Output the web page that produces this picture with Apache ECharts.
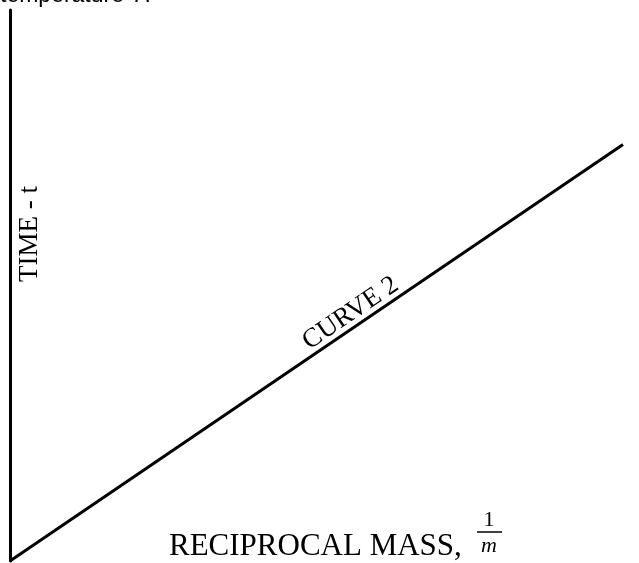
<!DOCTYPE html>
<html>
<head>
<meta charset="utf-8">
<style>
html, body { margin: 0; padding: 0; background: #fff; }
#main { width: 639px; height: 563px; }
</style>
<script src="https://cdn.jsdelivr.net/npm/echarts@6/dist/echarts.min.js"></script>
</head>
<body>
<div id="main"></div>
<script>
// 曲线2 数据 (1/m, t)
var massValues = [0, 1];
var timeValues = [0, 0.756];
var curveName = 'CURVE 2';
var xTitle = 'RECIPROCAL MASS,';
var yTitle = 'TIME - t';

var chart = echarts.init(document.getElementById('main'));
var serif = '"Liberation Serif", "Times New Roman", serif';

chart.setOption({
	animation : false,
	grid : {
		left : 10,
		right : 16,
		top : 10,
		bottom : 2
	},
	xAxis : {
		type : 'value',
		min : 0,
		max : 1,
		axisLine : { show : false },
		axisTick : { show : false },
		axisLabel : { show : false },
		splitLine : { show : false }
	},
	yAxis : {
		type : 'value',
		min : 0,
		max : 1,
		axisLine : {
			show : true,
			lineStyle : { color : '#000', width : 3 }
		},
		axisTick : { show : false },
		axisLabel : { show : false },
		splitLine : { show : false }
	},
	series : [ {
		name : curveName,
		type : 'line',
		symbol : 'none',
		lineStyle : { color : '#000', width : 3 },
		data : massValues.map(function(x, i) {
			return [ x, timeValues[i] ];
		})
	} ]
});

// 文字标注
var mid = 0.568;
var p = chart.convertToPixel({ gridIndex : 0 }, [ mid, timeValues[1] * mid ]);
var p0 = chart.convertToPixel({ gridIndex : 0 }, [ massValues[0], timeValues[0] ]);
var p1 = chart.convertToPixel({ gridIndex : 0 }, [ massValues[1], timeValues[1] ]);
var angle = Math.atan2(p0[1] - p1[1], p1[0] - p0[0]);

chart.setOption({
	graphic : [ {
		type : 'text',
		x : 0,
		y : 7,
		style : {
			text : 'temperature {i|T}.',
			font : '23px "Liberation Sans", Arial, sans-serif',
			fill : '#000',
			verticalAlign : 'bottom',
			rich : {
				i : { fontStyle : 'italic', fontSize : 23, fontFamily : '"Liberation Sans", Arial, sans-serif' }
			}
		}
	}, {
		type : 'text',
		x : 30,
		y : 234,
		rotation : Math.PI / 2,
		style : {
			text : yTitle,
			font : '27px ' + serif,
			fill : '#000',
			align : 'center',
			verticalAlign : 'middle'
		}
	}, {
		type : 'text',
		x : 169,
		y : 562,
		style : {
			text : xTitle,
			font : '31px ' + serif,
			fill : '#000',
			verticalAlign : 'bottom'
		}
	}, {
		type : 'text',
		x : 489,
		y : 531,
		style : {
			text : '1',
			font : '22px ' + serif,
			fill : '#000',
			align : 'center',
			verticalAlign : 'bottom'
		}
	}, {
		type : 'line',
		shape : { x1 : 477, y1 : 532, x2 : 502, y2 : 532 },
		style : { stroke : '#000', lineWidth : 1.5 }
	}, {
		type : 'text',
		x : 489,
		y : 557,
		style : {
			text : 'm',
			font : 'italic 22px ' + serif,
			fill : '#000',
			align : 'center',
			verticalAlign : 'bottom'
		}
	}, {
		type : 'text',
		x : p[0],
		y : p[1],
		rotation : angle,
		style : {
			text : curveName,
			font : '27px ' + serif,
			fill : '#000',
			align : 'center',
			verticalAlign : 'bottom'
		}
	} ]
});
</script>
</body>
</html>
